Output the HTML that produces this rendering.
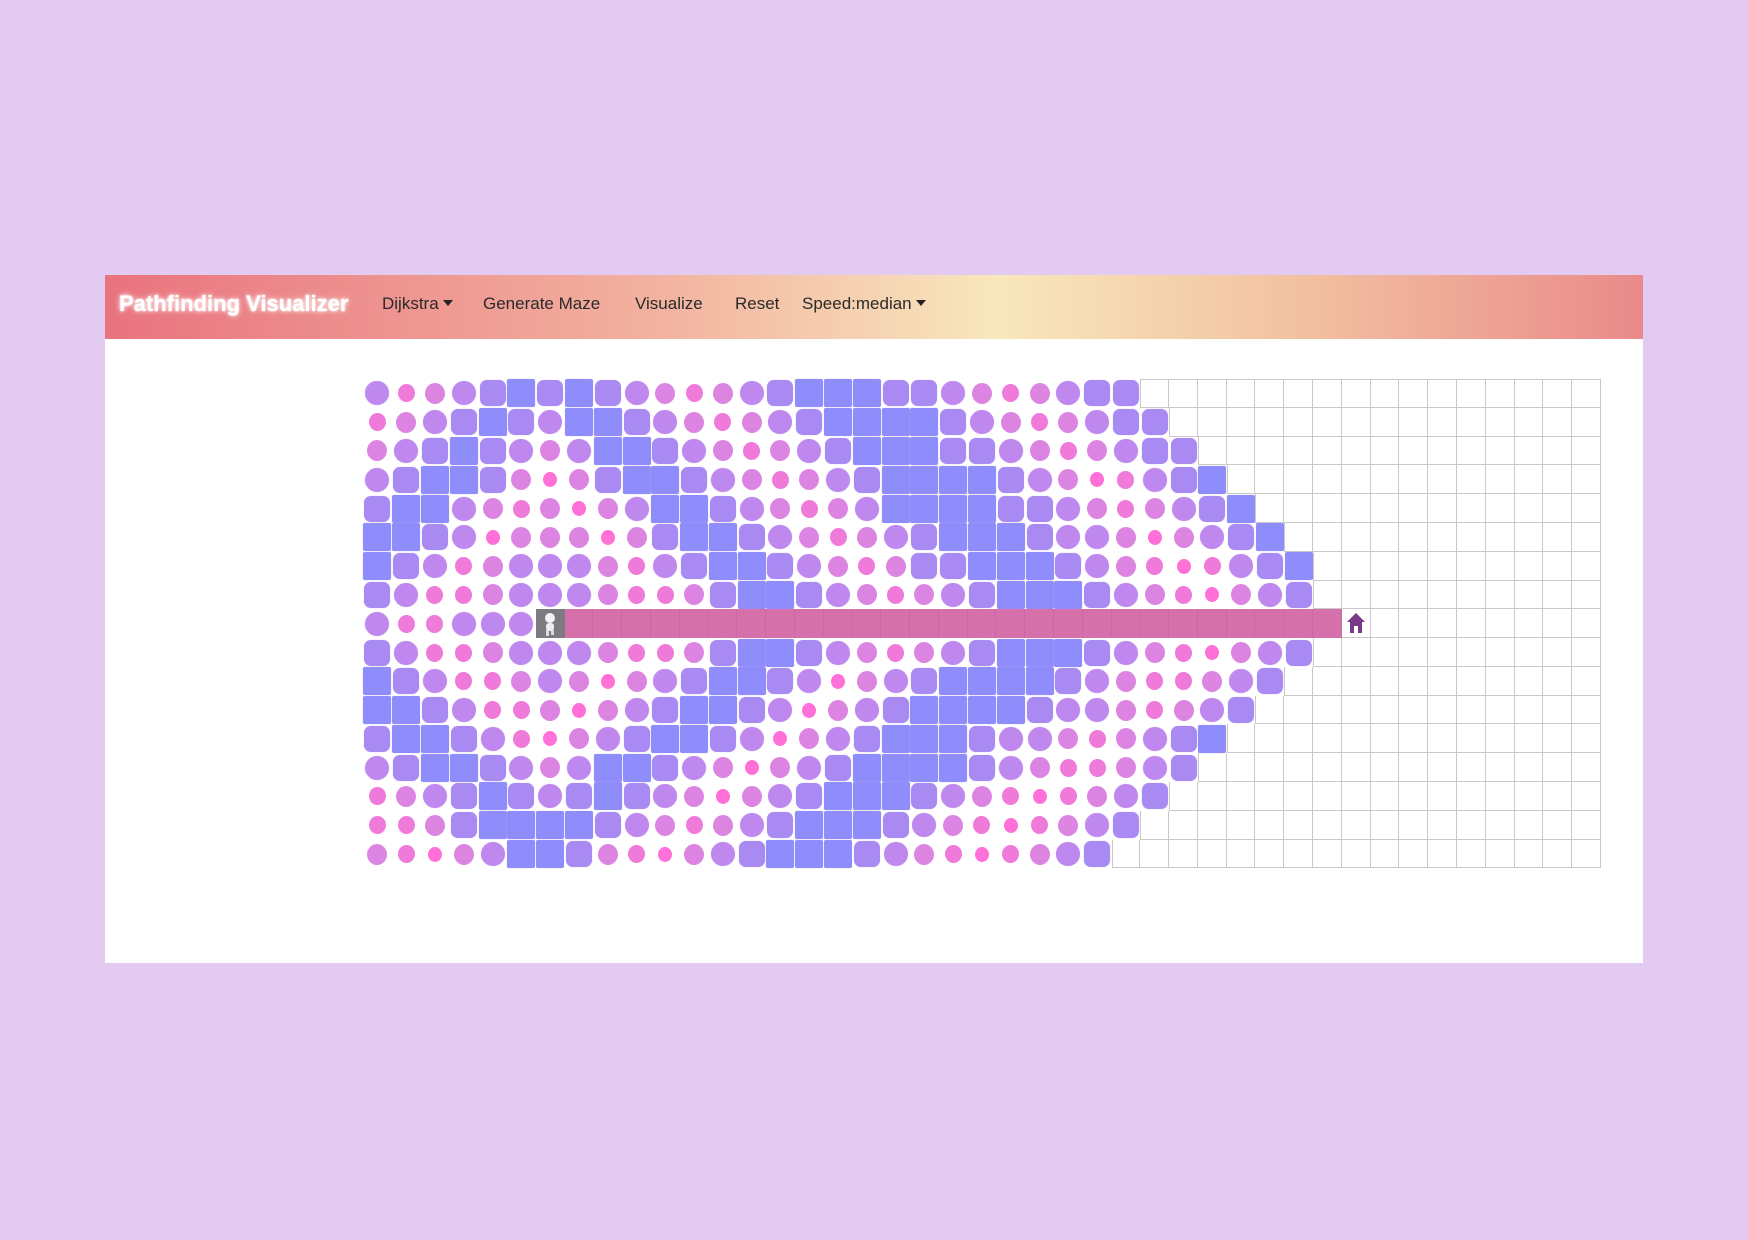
<!DOCTYPE html>
<html><head><meta charset="utf-8">
<style>
html,body{margin:0;padding:0}
body{width:1748px;height:1240px;background:#e3caf1;position:relative;overflow:hidden;font-family:"Liberation Sans",sans-serif}
#panel{position:absolute;left:105px;top:275px;width:1538px;height:688px;background:#fff}
#nav{position:absolute;left:0;top:0;width:1538px;height:64px;background:linear-gradient(90deg,#e9737f 0%,#f2b09e 35%,#f8e7bd 58%,#f2c0a0 78%,#ea8a8a 100%)}
.nv{position:absolute;top:19px;font-size:17px;color:#2a2a2a;white-space:nowrap}
#title{position:absolute;left:14px;top:16px;font-size:22px;font-weight:bold;color:#fff;text-shadow:0 0 6px #fff,0 0 2px #fff}
.caret{display:inline-block;width:0;height:0;border-left:5px solid transparent;border-right:5px solid transparent;border-top:6px solid #222;margin-left:4px;vertical-align:3px}
#grid{position:absolute;left:0;top:0}
.cell{position:absolute;box-sizing:border-box;display:flex;align-items:center;justify-content:center}
.empty{border-right:1px solid #c9c9c9;border-bottom:1px solid #c9c9c9}
</style></head><body>
<div id="panel">
 <div id="nav">
  <div id="title">Pathfinding Visualizer</div>
  <div class="nv" style="left:277px">Dijkstra<span class="caret"></span></div>
  <div class="nv" style="left:378px">Generate Maze</div>
  <div class="nv" style="left:530px">Visualize</div>
  <div class="nv" style="left:630px">Reset</div>
  <div class="nv" style="left:697px">Speed:median<span class="caret"></span></div>
 </div>
</div>
<div id="grid"></div>
<script>
const ROWS=17, COLS=43;
const startRow=8, startCol=6, homeCol=34;
const visited=[
[3,1,2,3,4,5,4,5,4,3,2,1,2,3,4,5,5,5,4,4,3,2,1,2,3,4,4],
[1,2,3,4,5,4,3,5,5,4,3,2,1,2,3,4,5,5,5,5,4,3,2,1,2,3,4,4],
[2,3,4,5,4,3,2,3,5,5,4,3,2,1,2,3,4,5,5,5,4,4,3,2,1,2,3,4,4],
[3,4,5,5,4,2,0,2,4,5,5,4,3,2,1,2,3,4,5,5,5,5,4,3,2,0,1,3,4,5],
[4,5,5,3,2,1,2,0,2,3,5,5,4,3,2,1,2,3,5,5,5,5,4,4,3,2,1,2,3,4,5],
[5,5,4,3,0,2,2,2,0,2,4,5,5,4,3,2,1,2,3,4,5,5,5,4,3,3,2,0,2,3,4,5],
[5,4,3,1,2,3,3,3,2,1,3,4,5,5,4,3,2,1,2,4,4,5,5,5,4,3,2,1,0,1,3,4,5],
[4,3,1,1,2,3,3,3,2,1,1,2,4,5,5,4,3,2,1,2,3,4,5,5,5,4,3,2,1,0,2,3,4],
[3,1,1,3,3,3],
[4,3,1,1,2,3,3,3,2,1,1,2,4,5,5,4,3,2,1,2,3,4,5,5,5,4,3,2,1,0,2,3,4],
[5,4,3,1,1,2,3,2,0,2,3,4,5,5,4,3,0,2,3,4,5,5,5,5,4,3,2,1,1,2,3,4],
[5,5,4,3,1,1,2,0,2,3,4,5,5,4,3,0,2,3,4,5,5,5,5,4,3,3,2,1,2,3,4],
[4,5,5,4,3,1,0,2,3,4,5,5,4,3,0,2,3,4,5,5,5,4,3,3,2,1,2,3,4,5],
[3,4,5,5,4,3,2,3,5,5,4,3,2,0,2,3,4,5,5,5,5,4,3,2,1,1,2,3,4],
[1,2,3,4,5,4,3,4,5,4,3,2,0,2,3,4,5,5,5,4,3,2,1,0,1,2,3,4],
[1,1,2,4,5,5,5,5,4,3,2,1,2,3,4,5,5,5,4,3,2,1,0,1,2,3,4],
[2,1,0,2,3,5,5,4,2,1,0,2,3,4,5,5,5,4,3,2,1,0,1,2,3,4]
];
const X0=363, Y0=379, CS=28.79;
function xOf(c){return X0+c*CS;}
function yOf(r){return Y0+r*CS;}
const lvl=[
 {w:14,h:15,r:'50%',bg:'#ff70d8'},
 {w:17,h:18,r:'50%',bg:'#f07ada'},
 {w:20,h:21,r:'50%',bg:'#dc84e2'},
 {w:24,h:24,r:'50%',bg:'#bf88ee'},
 {w:26,h:26,r:'7px',bg:'#a98af3'},
 {w:28,h:28,r:'2px',bg:'#8f8dfb'}
];
const g=document.getElementById('grid');
for(let r=0;r<ROWS;r++){
 for(let c=0;c<COLS;c++){
  const d=document.createElement('div');
  d.className='cell';
  d.style.left=xOf(c)+'px';d.style.top=yOf(r)+'px';
  d.style.width=CS+'px';d.style.height=CS+'px';
  const row=visited[r];
  if(r===startRow && c===startCol){
   
   
   d.style.background='#7d7a82';
   d.innerHTML='<svg width="22" height="26" viewBox="0 0 22 26"><circle cx="11" cy="7" r="5" fill="#f4f4f4"/><rect x="7" y="12" width="8" height="8" rx="3" fill="#eee"/><rect x="7" y="19" width="3" height="6" fill="#ddd"/><rect x="12" y="19" width="3" height="5" fill="#ddd"/></svg>';
  } else if(r===startRow && c>startCol && c<homeCol){
   
   
   d.style.background='#d670ab';
   d.style.borderRight='1px solid #c56aa5';
  } else if(r===startRow && c===homeCol){
   
   
   d.className+=' empty';
   d.innerHTML='<svg width="20" height="22" viewBox="0 0 20 22"><polygon points="10,1 19,10 16,10 16,21 4,21 4,10 1,10" fill="#7a3a8a"/><rect x="8" y="14" width="4" height="7" fill="#fff"/></svg>';
  } else if(row && c<row.length){
   
   
   const L=lvl[row[c]];
   const s=document.createElement('div');
   s.style.width=L.w+'px';s.style.height=L.h+'px';s.style.borderRadius=L.r;s.style.background=L.bg;
   if(row[c]>=3) s.style.boxShadow='0 0 1px #c9b8e8';
   d.appendChild(s);
  } else {
   
   
   d.className+=' empty';
   if(r===0) d.style.borderTop='1px solid #c9c9c9';
   if(c===0||(row&&c===row.length)) d.style.borderLeft='1px solid #c9c9c9';
  }
  g.appendChild(d);
 }
}
</script>
</body></html>
